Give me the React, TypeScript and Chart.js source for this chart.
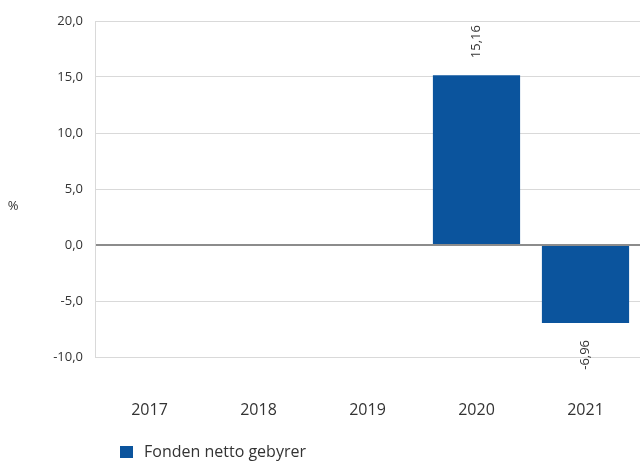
import React, { useEffect, useRef } from "react";
import { Chart, registerables } from "chart.js";

Chart.register(...registerables);

const categories = ["2017", "2018", "2019", "2020", "2021"];
const fundValues: (number | null)[] = [null, null, null, 15.16, -6.96];
const seriesName = "Fonden netto gebyrer";
const yTitle = "%";
const yMin = -10;
const yMax = 20;
const yStep = 5;

const FONT = "'Open Sans', 'Noto Sans', sans-serif";
const BAR_COLOR = "#0b549d";
const TEXT_COLOR = "#333333";

const fmt = (v: number, d: number) => v.toFixed(d).replace(".", ",");

const extrasPlugin = {
  id: "extras",
  afterDatasetsDraw(chart: any) {
    const ctx = chart.ctx;
    const meta = chart.getDatasetMeta(0);
    ctx.save();
    ctx.fillStyle = TEXT_COLOR;
    ctx.font = `13px ${FONT}`;
    ctx.textBaseline = "middle";
    meta.data.forEach((el: any, i: number) => {
      const v = fundValues[i];
      if (v === null || v === undefined) return;
      const offset = 17;
      ctx.save();
      if (v >= 0) {
        ctx.translate(el.x, el.y - offset);
        ctx.rotate(-Math.PI / 2);
        ctx.textAlign = "left";
      } else {
        ctx.translate(el.x, el.y + offset);
        ctx.rotate(-Math.PI / 2);
        ctx.textAlign = "right";
      }
      ctx.fillText(fmt(v, 2), 0, 0);
      ctx.restore();
    });
    // y title
    ctx.font = `13px ${FONT}`;
    ctx.textAlign = "center";
    ctx.fillText(yTitle, 13, 206);
    // legend
    ctx.fillStyle = BAR_COLOR;
    ctx.fillRect(120, 446, 13, 12);
    ctx.fillStyle = TEXT_COLOR;
    ctx.font = `16px ${FONT}`;
    ctx.textAlign = "left";
    ctx.fillText(seriesName, 144, 452);
    ctx.restore();
  },
};

export default function App() {
  const ref = useRef<HTMLCanvasElement>(null);
  useEffect(() => {
    document.body.style.margin = "0";
    const chart = new Chart(ref.current!, {
      type: "bar",
      data: {
        labels: categories,
        datasets: [
          {
            label: seriesName,
            data: fundValues as any,
            backgroundColor: BAR_COLOR,
            barPercentage: 0.8,
            categoryPercentage: 1,
          },
        ],
      },
      options: {
        responsive: false,
        animation: false,
        layout: { padding: { top: 21, right: -3, bottom: 40, left: 0 } },
        plugins: { legend: { display: false }, tooltip: { enabled: false } },
        scales: {
          x: {
            grid: {
              display: true,
              drawOnChartArea: false,
              drawTicks: true,
              tickLength: 44,
              color: "rgba(0,0,0,0)",
            },
            border: { display: false },
            ticks: {
              color: TEXT_COLOR,
              font: { family: FONT, size: 16 },
              padding: 0,
              maxRotation: 0,
            },
            afterFit(scale: any) {
              scale.height = 65;
            },
          },
          y: {
            min: yMin,
            max: yMax,
            grid: {
              drawTicks: false,
              color: (c: any) => (c.tick && c.tick.value === 0 ? "#8c8c8c" : "#d9d9d9"),
              lineWidth: (c: any) => (c.tick && c.tick.value === 0 ? 2 : 1),
            },
            border: { display: true, color: "#d9d9d9" },
            ticks: {
              stepSize: yStep,
              color: TEXT_COLOR,
              font: { family: FONT, size: 13 },
              padding: 12,
              callback: (v: any) => fmt(Number(v), 1),
            },
            afterFit(scale: any) {
              scale.width = 95;
            },
          },
        },
      },
      plugins: [extrasPlugin],
    });
    return () => chart.destroy();
  }, []);
  return (
    <div style={{ width: 640, height: 462 }}>
      <canvas ref={ref} width={640} height={462} />
    </div>
  );
}
